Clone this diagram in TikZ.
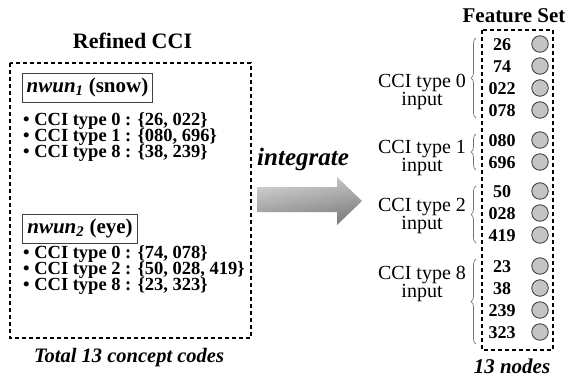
\documentclass[tikz,border=0pt]{standalone}
\usepackage{fontspec}
\setmainfont{Liberation Serif}
\usetikzlibrary{decorations.pathreplacing}
\begin{document}
\begin{tikzpicture}[x=1pt,y=-1pt,
  dashbox/.style={draw, line width=1.5pt, dash pattern=on 4pt off 3pt},
  wordbox/.style={draw=black!75, line width=1pt, inner sep=0pt, minimum height=29pt,
    font=\fontsize{21}{24}\selectfont\bfseries},
  item/.style={anchor=base west, inner sep=0pt, text height=12pt, text depth=2pt,
    font=\fontsize{18.5}{20}\selectfont\bfseries},
  code/.style={anchor=center, inner sep=0pt, font=\fontsize{18}{20}\selectfont\bfseries},
  unit/.style={circle, draw=black!80, fill=black!23, line width=0.8pt, minimum size=16.5pt, inner sep=0pt},
  grp/.style={anchor=base, inner sep=0pt, font=\fontsize{20}{22}\selectfont},
  grpbrace/.style={draw=black!55, line width=0.7pt, decorate, decoration={brace, amplitude=5pt}},
  title/.style={anchor=base, inner sep=0pt, font=\fontsize{21}{24}\selectfont\bfseries},
  note/.style={anchor=base, inner sep=0pt, font=\fontsize{21}{24}\selectfont\bfseries\itshape},
]
\useasboundingbox (0,0) rectangle (572,383);

% ---- left block: refined CCI ----
\node[title, font=\fontsize{22}{24}\selectfont\bfseries] (refined) at (132.5,48) {Refined CCI};
\draw[dashbox] (10,63) rectangle (251,338);

\node[wordbox, minimum width=130pt, anchor=west] (w1) at (22,87.5)
  {\textit{nwun}\textsubscript{\textit{1}} (snow)};
\node[item] (a1) at (23,125) {• CCI type 0 : \{26, 022\}};
\node[item] (a2) at (23,141) {• CCI type 1 : \{080, 696\}};
\node[item] (a3) at (23,157) {• CCI type 8 : \{38, 239\}};

\node[wordbox, minimum width=115pt, anchor=west] (w2) at (22,228.5)
  {\textit{nwun}\textsubscript{\textit{2}} (eye)};
\node[item] (b1) at (23,258.5) {• CCI type 0 : \{74, 078\}};
\node[item] (b2) at (23,274.5) {• CCI type 2 : \{50, 028, 419\}};
\node[item] (b3) at (23,290.5) {• CCI type 8 : \{23, 323\}};

\node[note, font=\fontsize{20.5}{24}\selectfont\bfseries\itshape] (total) at (129,362) {Total 13 concept codes};

% ---- integrate arrow ----
\node[note, anchor=base west, font=\fontsize{25}{28}\selectfont\bfseries\itshape] (integ) at (257,165) {integrate};
\shade[top color=black!17, bottom color=black!52, shading angle=10]
  (257,187) -- (337,187) -- (337,177) -- (362,201) -- (337,225) -- (337,212) -- (257,212) -- cycle;

% ---- right block: feature set ----
\node[title] (fset) at (514,22) {Feature Set};
\draw[dashbox] (482,30) rectangle (553,350);

\foreach \lab/\yy [count=\i] in {26/45,74/67,022/89,078/111,080/141,696/163,
    50/192,028/214,419/236,23/267,38/289,239/311,323/333} {
  \node[code] (c\i) at (502,\yy) {\lab};
  \node[unit] (u\i) at (540,\yy-1) {};
}

% group braces and labels
\coordinate (g0b) at (476,118); \coordinate (g0t) at (476,38);
\coordinate (g1b) at (476,170); \coordinate (g1t) at (476,134);
\coordinate (g2b) at (476,243); \coordinate (g2t) at (476,186);
\coordinate (g8b) at (476,344); \coordinate (g8t) at (476,259);
\draw[grpbrace] (g0b) -- (g0t);
\draw[grpbrace] (g1b) -- (g1t);
\draw[grpbrace] (g2b) -- (g2t);
\draw[grpbrace] (g8b) -- (g8t);

\node[grp] (l0) at (422,87) {CCI type 0};
\node[grp] (l0i) at (422,105) {input};
\node[grp] (l1) at (422,153) {CCI type 1};
\node[grp] (l1i) at (422,171) {input};
\node[grp] (l2) at (422,211) {CCI type 2};
\node[grp] (l2i) at (422,229) {input};
\node[grp] (l8) at (422,279) {CCI type 8};
\node[grp] (l8i) at (422,297) {input};

\node[note] (nodes) at (512,373) {13 nodes};
\end{tikzpicture}
\end{document}
